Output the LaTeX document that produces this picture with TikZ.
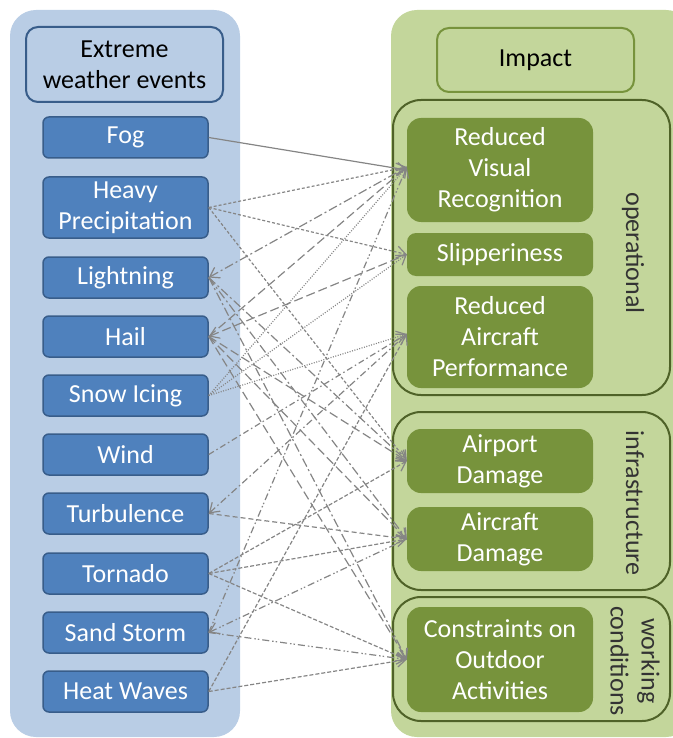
\documentclass[tikz,border=0pt]{standalone}
\usepackage{fontspec}
\setmainfont{Carlito}
\usetikzlibrary{arrows.meta}

\definecolor{panelblue}{HTML}{B9CDE5}
\definecolor{eventblue}{HTML}{4F81BD}
\definecolor{edgeblue}{HTML}{385D8A}
\definecolor{panelgreen}{HTML}{C3D69B}
\definecolor{impactgreen}{HTML}{77933C}
\definecolor{groupgreen}{HTML}{4F6228}
\definecolor{linkgray}{HTML}{858585}

\tikzset{
  >={Straight Barb[length=9pt,width=12pt]},
  txt/.style={font=\fontsize{26}{31}\selectfont, align=center},
  event/.style={txt, draw=edgeblue, line width=1.5pt, fill=eventblue, text=white, rounded corners=6pt, minimum width=165pt, minimum height=41pt, inner sep=0pt},
  impact/.style={txt, fill=impactgreen, text=white, rounded corners=14pt, minimum width=186pt, inner sep=0pt},
  group/.style={draw=groupgreen, line width=2pt, rounded corners=28pt},
  grouplabel/.style={txt, text=black!80, rotate=-90},
  link/.style={draw=linkgray, line width=1.2pt},
  foglink/.style={link},
  rainlink/.style={link, dash pattern=on 3pt off 2pt},
  boltlink/.style={link, dash pattern=on 9pt off 3pt on 2pt off 3pt},
  haillink/.style={link, dash pattern=on 9pt off 4pt},
  snowlink/.style={link, dash pattern=on 1pt off 1.5pt},
  windlink/.style={link, dash pattern=on 6pt off 3pt on 1.5pt off 3pt},
  turblink/.style={link, dash pattern=on 7pt off 3pt on 1.5pt off 3pt},
  turbdash/.style={link, dash pattern=on 5pt off 3pt},
  tornlink/.style={link, dash pattern=on 4pt off 2pt},
  sandlink/.style={link, dash pattern=on 7pt off 3pt on 1.5pt off 2pt on 1.5pt off 3pt},
  heatlink/.style={link, dash pattern=on 4pt off 2pt},
}

\begin{document}
\begin{tikzpicture}[x=1pt, y=-1pt]
    \useasboundingbox (0,0) rectangle (672,738);
    % panels
    \fill[panelblue, rounded corners=26pt] (10,10) rectangle (240,737);
    \fill[panelgreen, rounded corners=26pt] (391,10) rectangle (692,737);
    \draw[group] (393,100) rectangle (670,395); % operational
    \draw[group] (393,412) rectangle (670,590); % infrastructure
    \draw[group] (393,597) rectangle (670,721); % working conditions

    % weather events
    \node[txt, draw=edgeblue, line width=2pt, fill=panelblue, rounded corners=12pt, minimum width=197pt, minimum height=75pt, inner sep=0pt] (events) at (124.5,64.5) {Extreme\\weather events};
    \node[event] (fog) at (125.5,137.5) {Fog};
    \node[event, minimum height=61pt] (rain) at (125.5,207.5) {Heavy\\Precipitation};
    \node[event] (bolt) at (125.5,277.5) {Lightning};
    \node[event] (hail) at (125.5,336.5) {Hail};
    \node[event] (snow) at (125.5,395.5) {Snow Icing};
    \node[event] (wind) at (125.5,454.5) {Wind};
    \node[event] (turb) at (125.5,513.5) {Turbulence};
    \node[event] (torn) at (125.5,573.5) {Tornado};
    \node[event] (sand) at (125.5,632.5) {Sand Storm};
    \node[event] (heat) at (125.5,691.5) {Heat Waves};

    % impacts
    \node[txt, draw=impactgreen, line width=2pt, rounded corners=12pt, minimum width=197pt, minimum height=64pt, inner sep=0pt] (impacts) at (535.5,60) {Impact};
    \node[impact, minimum height=104pt] (visual) at (500,170) {Reduced\\Visual\\Recognition};
    \node[impact, minimum height=43pt, rounded corners=9pt] (slip) at (500,254.5) {Slipperiness};
    \node[impact, minimum height=102pt] (perf) at (500,337) {Reduced\\Aircraft\\Performance};
    \node[impact, minimum height=64pt] (airport) at (500,461) {Airport\\Damage};
    \node[impact, minimum height=64pt] (aircraft) at (500,539) {Aircraft\\Damage};
    \node[impact, minimum height=105pt] (outdoor) at (500,659.5) {Constraints on\\Outdoor\\Activities};

    % group labels
    \node[grouplabel] (oplabel) at (633,253) {operational};
    \node[grouplabel] (inflabel) at (635,503) {infrastructure};
    \node[grouplabel] (worklabel) at (635,661) {working\\conditions};

    % connectors
    \draw[foglink, ->] (fog.east) -- (visual.west); % fog
    \draw[rainlink, ->] (rain.east) -- ([yshift=3pt]visual.west); % rain
    \draw[rainlink, ->] (rain.east) -- (slip.west);
    \draw[rainlink, ->] (rain.east) -- (airport.west);
    \draw[boltlink, <-] (bolt.east) -- ([yshift=3pt]visual.west); % lightning
    \draw[boltlink, ->] (bolt.east) -- (airport.west);
    \draw[boltlink, ->] (bolt.east) -- (aircraft.west);
    \draw[boltlink, ->] (bolt.east) -- (outdoor.west);
    \draw[haillink, ->] (hail.east) -- ([yshift=3pt]visual.west); % hail
    \draw[haillink, <-] (hail.east) -- (slip.west);
    \draw[haillink, ->] (hail.east) -- (airport.west);
    \draw[haillink, ->] (hail.east) -- (aircraft.west);
    \draw[haillink, ->] (hail.east) -- (outdoor.west);
    \draw[snowlink, ->] (snow.east) -- ([yshift=3pt]visual.west); % snow
    \draw[snowlink, ->] (snow.east) -- (slip.west);
    \draw[snowlink, ->] (snow.east) -- ([yshift=3pt]perf.west);
    \draw[windlink, ->] (wind.east) -- ([yshift=3pt]perf.west); % wind
    \draw[turblink, <-] (turb.east) -- ([yshift=3pt]perf.west); % turbulence
    \draw[turbdash, ->] (turb.east) -- (aircraft.west);
    \draw[tornlink, ->] (torn.east) -- (airport.west); % tornado
    \draw[tornlink, ->] (torn.east) -- (aircraft.west);
    \draw[tornlink, ->] (torn.east) -- (outdoor.west);
    \draw[sandlink, ->] (sand.east) -- ([yshift=3pt]visual.west); % sand storm
    \draw[sandlink, <-] (sand.east) -- (aircraft.west);
    \draw[sandlink, ->] (sand.east) -- (outdoor.west);
    \draw[heatlink, ->] (heat.east) -- ([yshift=3pt]perf.west); % heat waves
    \draw[heatlink, ->] (heat.east) -- (outdoor.west);
  \end{tikzpicture}
\end{document}
